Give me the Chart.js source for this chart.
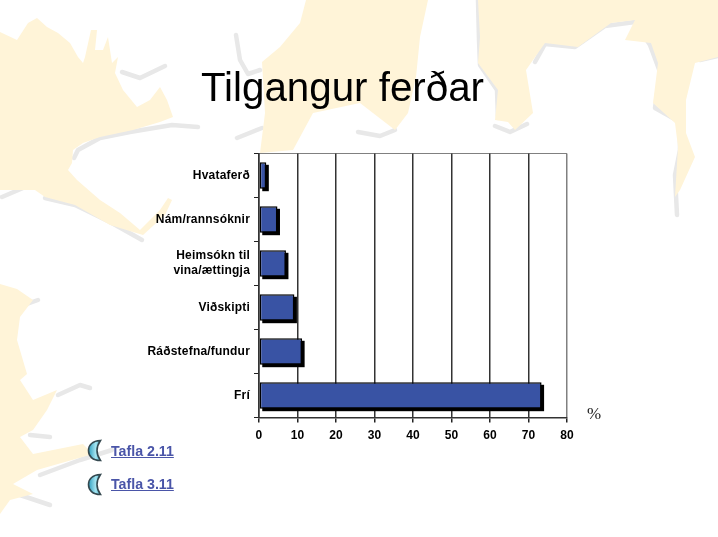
<!DOCTYPE html>
<html lang="is">
<head>
<meta charset="utf-8">
<title>Tilgangur ferðar</title>
<script src="https://cdn.jsdelivr.net/npm/chart.js@4"></script>
<style>
html, body { margin: 0; padding: 0; background: #fff; }
#page { position: relative; width: 718px; height: 537px; overflow: hidden; font-family: "Liberation Sans", Arial, sans-serif; }
#map, #chart, .txt, .moon { position: absolute; }
#map { left: 0; top: 0; }
#chart { left: 0; top: 0; }
#title { left: 201px; top: 63px; font-size: 40.3px; line-height: 50px; color: #000; white-space: nowrap; }
#unit { left: 587px; top: 404px; font: 17px "Liberation Serif", serif; color: #222; }
.link { left: 111px; font-weight: bold; font-size: 14.2px; line-height: 16px; color: #4a55a8; text-decoration: underline; white-space: nowrap; }
</style>
</head>
<body>
<div id="page">
  <svg id="map" width="718" height="537" viewBox="0 0 718 537">
    <g fill="none" stroke="#e8e8e8" stroke-width="4.5" stroke-linejoin="round" stroke-linecap="round">
      <polyline points="198,127 172,125 130,132 100,138 78,150 74,158"/>
      <polyline points="45,198 75,205 110,222 142,240"/>
      <polyline points="2,197 30,185"/>
      <polyline points="122,72 140,78 165,66"/>
      <polyline points="236,35 240,60 248,74 260,70"/>
      <polyline points="237,138 262,128"/>
      <polyline points="358,132 380,136 395,130"/>
      <polyline points="478,0 479,40 480,65 497,90 498,118"/>
      <polyline points="495,126 510,132 527,124"/>
      <polyline points="535,62 545,44 575,47 605,26 635,22 650,45 660,72 655,108 680,122 680,150 675,175 677,215"/>
      <polyline points="700,60 718,56"/>
      <polyline points="24,305 38,300"/>
      <polyline points="58,395 80,385 90,388"/>
      <polyline points="30,435 50,437"/>
      <polyline points="40,475 80,460 112,450"/>
      <polyline points="20,495 50,505"/>
    </g>
    <g fill="#fff4d8">
      <polygon points="0,32 17,40 28,23 37,18 47,27 58,33 70,43 78,57 83,63 85,57 91,30 97,30 95,50 103,50 108,37 112,63 118,57 115,73 123,90 137,107 150,100 160,87 167,100 173,117 160,122 133,130 100,137 83,143 73,150 72,163 68,170 77,180 100,200 120,213 140,230 160,210 168,198 172,200 165,215 143,235 110,225 75,205 45,197 35,190 0,190"/>
      <polygon points="0,284 17,289 33,300 20,317 17,340 27,374 20,380 33,400 57,390 47,410 33,430 20,437 33,454 83,444 93,454 37,470 13,484 33,494 10,500 0,514"/>
      <polygon points="306,0 300,23 280,47 262,62 265,113 260,153 293,150 313,113 360,103 395,130 408,113 416,77 420,37 428,0"/>
      <polygon points="478,0 480,37 478,63 498,90 495,120 508,122 515,130 533,113 526,70 545,43 578,47 611,23 635,20 625,40 651,43 658,63 653,103 675,123 678,147 675,197 680,190 695,157 686,133 686,100 695,63 718,57 718,0"/>
    </g>
  </svg>
  <canvas id="chart" width="718" height="537"></canvas>
  <div id="title" class="txt">Tilgangur ferðar</div>
  <div id="unit" class="txt">%</div>
  <svg class="moon" style="left:87px;top:439px" width="16" height="24" viewBox="0 0 16 24"><use href="#moonShape"/></svg>
  <a id="link1" class="txt link" style="top:443px" href="#">Tafla 2.11</a>
  <svg class="moon" style="left:87px;top:473px" width="16" height="24" viewBox="0 0 16 24"><use href="#moonShape"/></svg>
  <a id="link2" class="txt link" style="top:476px" href="#">Tafla 3.11</a>
  <svg width="0" height="0" style="position:absolute">
    <defs>
      <linearGradient id="moonFill" x1="0" y1="0" x2="1" y2="0">
        <stop offset="0" stop-color="#2f9fc0"/><stop offset="0.6" stop-color="#a5e4f0"/><stop offset="1" stop-color="#4ab8d4"/>
      </linearGradient>
      <path id="moonShape" d="M13.5 1.5 C5 2 1.5 6.5 1.5 11.5 C1.5 17 5.5 21.5 13.5 21.5 C11 18 10 15 10 11.5 C10 8 11 5 13.5 1.5 Z" fill="url(#moonFill)" stroke="#34484f" stroke-width="1.6"/>
    </defs>
  </svg>
</div>
<script>
// values, in %
const categories = ['Hvataferð', 'Nám/rannsóknir', ['Heimsókn til', 'vina/ættingja'], 'Viðskipti', 'Ráðstefna/fundur', 'Frí'];
const shares = [1.9, 4.8, 7.0, 9.2, 11.2, 73.4];
const xTicks = [0, 10, 20, 30, 40, 50, 60, 70, 80];

const labelFont = { family: '"Liberation Sans", Arial, sans-serif', size: 12, weight: 'bold', lineHeight: 1.25 };

// white plot area with thin grey frame, black offset shadow behind the bars
const plotFrame = {
    id: 'plotFrame',
    beforeDraw(chart) {
        const { ctx, chartArea: a } = chart;
        ctx.save();
        ctx.fillStyle = '#fff';
        ctx.fillRect(a.left, a.top, a.width, a.height);
        ctx.strokeStyle = '#808080';
        ctx.lineWidth = 1;
        ctx.beginPath();
        ctx.moveTo(a.left, a.top);
        ctx.lineTo(a.right, a.top);
        ctx.stroke();
        ctx.restore();
        ctx.letterSpacing = '0.2px';
    },
    beforeDatasetsDraw(chart) {
        const ctx = chart.ctx;
        ctx.save();
        ctx.fillStyle = '#000';
        chart.getDatasetMeta(0).data.forEach(bar => {
            const { x, y, base, height } = bar.getProps(['x', 'y', 'base', 'height']);
            ctx.fillRect(base + 2.5, y - height / 2 + 2.5, x - base, height);
        });
        ctx.restore();
    }
};

new Chart(document.getElementById('chart').getContext('2d'), {
    type: 'bar',
    data: {
        labels: categories,
        datasets: [{
            data: shares,
            backgroundColor: '#3953a4',
            borderColor: '#000',
            borderWidth: 1.5,
            borderSkipped: false,
            barPercentage: 0.6,
            categoryPercentage: 1
        }]
    },
    plugins: [plotFrame],
    options: {
        indexAxis: 'y',
        responsive: false,
        animation: false,
        layout: { padding: { top: 153.5, right: 151, left: 0, bottom: 0 } },
        plugins: { legend: { display: false }, tooltip: { enabled: false } },
        scales: {
            x: {
                min: 0,
                max: 80,
                afterBuildTicks: axis => { axis.ticks = xTicks.map(v => ({ value: v })); },
                afterFit: axis => { axis.height = 119.5; },
                grid: {
                    color: c => (c.tick && c.tick.value === 80 ? '#808080' : '#333'),
                    lineWidth: 1.5,
                    tickColor: '#222',
                    tickLength: 5
                },
                border: { color: '#333', width: 1.5 },
                ticks: { color: '#000', font: labelFont, padding: 6, maxRotation: 0 }
            },
            y: {
                afterFit: axis => { axis.width = 259; },
                grid: { drawOnChartArea: false, tickColor: '#222', tickLength: 5 },
                border: { color: '#333', width: 1.5 },
                ticks: { color: '#000', font: labelFont, padding: 4, autoSkip: false }
            }
        }
    }
});
</script>
</body>
</html>
